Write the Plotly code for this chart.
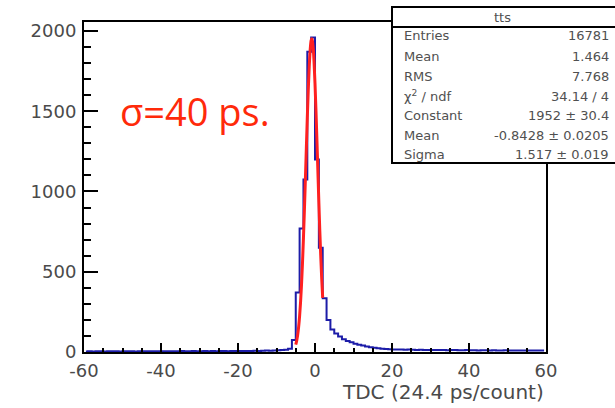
import plotly.graph_objects as go

# TDC histogram, 1-count bins from -60 to 60
bin_centers = [b + 0.5 for b in range(-60, 60)]
counts = [
    # -60 .. -41
    3, 4, 3, 5, 4, 3, 4, 5, 4, 3, 4, 4, 5, 3, 4, 5, 4, 4, 5, 4,
    # -40 .. -21
    5, 4, 5, 5, 4, 6, 5, 5, 6, 4, 5, 6, 5, 6, 5, 6, 6, 5, 7, 6,
    # -20 .. -7
    6, 7, 6, 7, 8, 7, 8, 9, 8, 10, 11, 12, 14, 20,
    # -6 .. 3
    75, 370, 770, 1075, 1870, 1960, 1200, 650, 335, 200,
    # 4 .. 19
    140, 115, 96, 80, 68, 60, 52, 45, 40, 34, 30, 27, 24, 21, 19, 17,
    # 20 .. 59
    16, 15, 15, 14, 15, 14, 13, 14, 13, 13, 12, 13, 12, 12, 11, 12, 12, 11, 11, 12,
    11, 11, 10, 11, 11, 10, 11, 10, 10, 11, 10, 10, 9, 10, 10, 9, 10, 9, 9, 10,
]

# Gaussian fit curve as drawn (Constant 1952, Mean -0.8428, Sigma 1.517), fit range -5..2
fit_x = [-5.0, -4.75, -4.5, -4.25, -4.0, -3.75, -3.5, -3.25, -3.0, -2.75, -2.5, -2.25,
         -2.0, -1.75, -1.5, -1.25, -1.0, -0.8428, -0.75, -0.5, -0.25, 0.0, 0.25, 0.5,
         0.75, 1.0, 1.25, 1.5, 1.75, 2.0]
fit_y = [45.7, 70.8, 106.8, 156.7, 223.9, 311.2, 421.0, 554.4, 710.2, 885.6, 1075.0, 1269.6,
         1459.3, 1632.4, 1777.1, 1882.9, 1941.5, 1952.0, 1948.3, 1902.8, 1808.5, 1672.9, 1505.8, 1319.3,
         1124.9, 933.3, 753.6, 592.3, 453.0, 337.2]

stat_labels = ["Entries", "Mean", "RMS", "χ<sup>2</sup> / ndf", "Constant", "Mean", "Sigma"]
stat_values = ["16781", "1.464", "7.768", "34.14 / 4", "1952 ± 30.4", "-0.8428 ± 0.0205", "1.517 ± 0.019"]

x_ticks = [-60, -40, -20, 0, 20, 40, 60]
y_ticks = [0, 500, 1000, 1500, 2000]

# plot frame in pixels (for placing the stats box)
L, R, T, B = 84, 546, 22, 352
W, H = R - L, B - T
px = lambda x: (x - L) / W
py = lambda y: (B - y) / H

fig = go.Figure()

fig.add_trace(go.Scatter(
    x=bin_centers, y=counts, mode="lines", line_shape="hvh",
    line=dict(color="#1c1ca8", width=2), showlegend=False, hoverinfo="skip"
))
fig.add_trace(go.Scatter(
    x=fit_x, y=fit_y, mode="lines", line_shape="spline",
    line=dict(color="#ff2020", width=3), showlegend=False, hoverinfo="skip"
))

axis_font = dict(family="DejaVu Sans", size=18, color="#4a4a4a")
fig.update_xaxes(
    range=[-60, 60], tickvals=x_ticks, ticktext=[str(v) for v in x_ticks],
    ticks="inside", ticklen=9, tickwidth=1.5, tickcolor="black",
    minor=dict(ticks="inside", dtick=5, tick0=0, ticklen=4.5, tickwidth=1.5, tickcolor="black"),
    showline=True, linecolor="black", linewidth=2, mirror=True,
    showgrid=False, zeroline=False, tickfont=axis_font, ticklabelstandoff=1,
)
fig.update_yaxes(
    range=[0, 2056], tickvals=y_ticks, ticktext=[str(v) for v in y_ticks],
    ticks="inside", ticklen=14, tickwidth=1.5, tickcolor="black",
    minor=dict(ticks="inside", dtick=100, tick0=0, ticklen=7, tickwidth=1.5, tickcolor="black"),
    showline=True, linecolor="black", linewidth=2, mirror=True,
    showgrid=False, zeroline=False, tickfont=axis_font, ticklabelstandoff=2,
)

# stats box
bx0, bx1, by_top, by_bot, by_sep = 392, 617, 7, 163, 27
fig.add_shape(type="rect", xref="paper", yref="paper",
              x0=px(bx0), x1=px(bx1), y0=py(by_bot), y1=py(by_top),
              line=dict(color="black", width=2), fillcolor="white", layer="above")
fig.add_shape(type="line", xref="paper", yref="paper",
              x0=px(bx0), x1=px(bx1), y0=py(by_sep), y1=py(by_sep),
              line=dict(color="black", width=2), layer="above")

stat_font = dict(family="DejaVu Sans", size=13, color="#505050")
fig.add_annotation(x=px(502), y=py(17), xref="paper", yref="paper", text="tts",
                   showarrow=False, font=stat_font, xanchor="center", yanchor="middle")
row_y = [35, 56, 76, 96, 115, 135, 154]
for lab, val, yy in zip(stat_labels, stat_values, row_y):
    fig.add_annotation(x=px(402), y=py(yy), xref="paper", yref="paper", text=lab,
                       showarrow=False, font=stat_font, xanchor="left", yanchor="middle")
    fig.add_annotation(x=px(611), y=py(yy), xref="paper", yref="paper", text=val,
                       showarrow=False, font=stat_font, xanchor="right", yanchor="middle")

# sigma label
fig.add_annotation(x=px(118), y=py(111), xref="paper", yref="paper", text="σ=40 ps.",
                   showarrow=False, xanchor="left", yanchor="middle",
                   font=dict(family="Open Sans", size=38, color="#ff2a0a"))

# x-axis title, right aligned
fig.add_annotation(x=1.0, y=py(392), xref="paper", yref="paper", text="TDC (24.4 ps/count)",
                   showarrow=False, xanchor="right", yanchor="middle",
                   font=dict(family="DejaVu Sans", size=20, color="#4a4a4a"))

fig.update_layout(
    width=615, height=408,
    margin=dict(l=L, r=615 - R, t=T, b=408 - B),
    paper_bgcolor="white", plot_bgcolor="white",
    showlegend=False,
)

# page body margin would shift the 615x408 figure; drop it
fig.write_html("out.html", config={"displayModeBar": False},
               post_script="document.body.style.margin='0';")
